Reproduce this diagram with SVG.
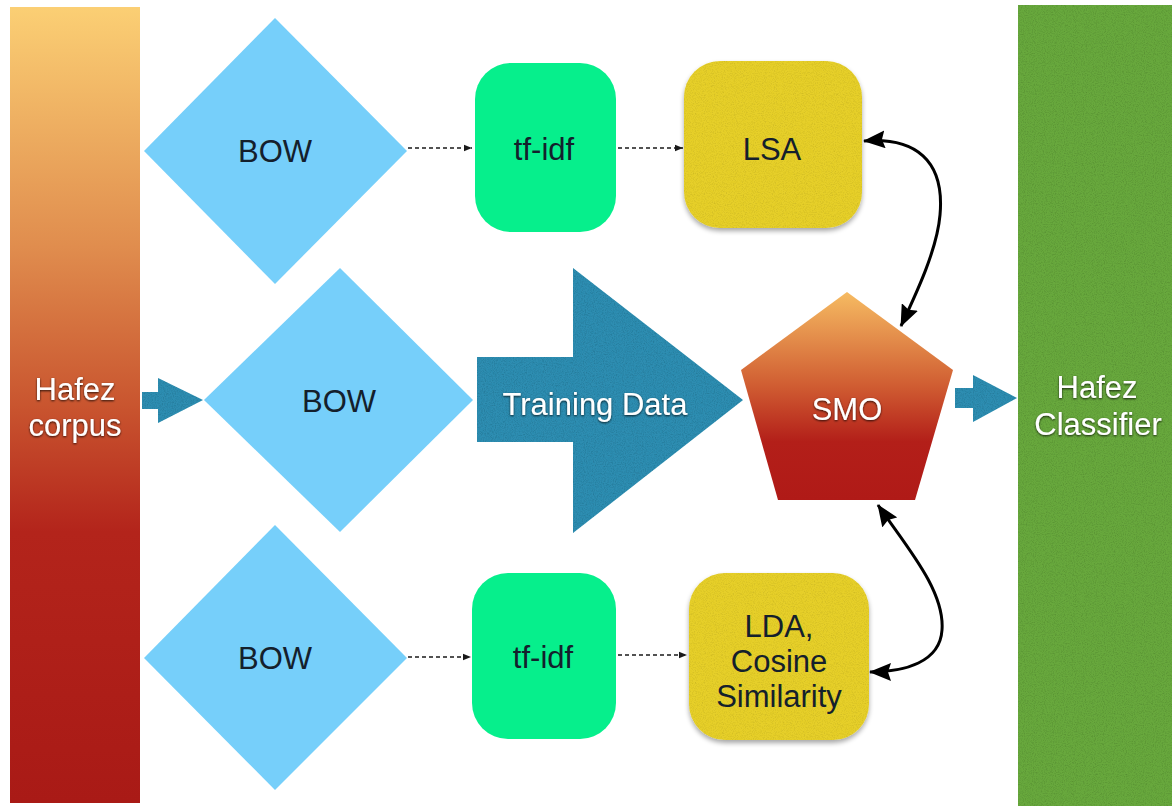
<svg xmlns="http://www.w3.org/2000/svg" width="1172" height="806" viewBox="0 0 1172 806">
  <style>
    .lbl { font-family: "Liberation Sans", Arial, Helvetica, sans-serif; font-size: 31px; text-anchor: middle; }
    .dark { fill: #14202c; }
    .white { fill: #ffffff; filter: url(#textShadow); }
    .diamond { fill: #76cffa; }
    .tfidf { fill: #06ef8c; }
    .topic { fill: #e6cf2c; filter: url(#grainShadow); }
    .block { fill: #2d8db1; filter: url(#grain); }
    .dotted { fill: none; stroke: #1a1a1a; stroke-width: 1.7; stroke-dasharray: 4 3; marker-end: url(#smallHead); }
    .curve { fill: none; stroke: #000; stroke-width: 3; marker-start: url(#bigHead); marker-end: url(#bigHead); }
  </style>
  <defs>
    <linearGradient id="corpusFill" x1="0" y1="0" x2="0" y2="1">
      <stop offset="0" stop-color="#fbcf74"/>
      <stop offset="0.3" stop-color="#e08d4e"/>
      <stop offset="0.5" stop-color="#c9552f"/>
      <stop offset="0.66" stop-color="#b3241b"/>
      <stop offset="1" stop-color="#a91a16"/>
    </linearGradient>
    <linearGradient id="smoFill" x1="0" y1="0" x2="0" y2="1">
      <stop offset="0" stop-color="#f6bb62"/>
      <stop offset="0.45" stop-color="#d05d32"/>
      <stop offset="0.72" stop-color="#b31f19"/>
      <stop offset="1" stop-color="#b01a17"/>
    </linearGradient>
    <filter id="grain" x="-5%" y="-5%" width="110%" height="110%">
      <feTurbulence type="fractalNoise" baseFrequency="0.9" numOctaves="2" seed="4" result="noise"/>
      <feColorMatrix in="noise" type="matrix" values="0 0 0 0 0  0 0 0 0 0  0 0 0 0 0  0.6 0 0 0 -0.26" result="speck"/>
      <feComposite in="speck" in2="SourceAlpha" operator="in" result="speckIn"/>
      <feMerge><feMergeNode in="SourceGraphic"/><feMergeNode in="speckIn"/></feMerge>
    </filter>
    <filter id="grainShadow" x="-10%" y="-10%" width="120%" height="130%">
      <feTurbulence type="fractalNoise" baseFrequency="0.9" numOctaves="2" seed="7" result="noise"/>
      <feColorMatrix in="noise" type="matrix" values="0 0 0 0 0  0 0 0 0 0  0 0 0 0 0  0.45 0 0 0 -0.2" result="speck"/>
      <feComposite in="speck" in2="SourceAlpha" operator="in" result="speckIn"/>
      <feGaussianBlur in="SourceAlpha" stdDeviation="2.5"/>
      <feOffset dy="3" result="blurred"/>
      <feComponentTransfer in="blurred" result="shadow"><feFuncA type="linear" slope="0.35"/></feComponentTransfer>
      <feMerge><feMergeNode in="shadow"/><feMergeNode in="SourceGraphic"/><feMergeNode in="speckIn"/></feMerge>
    </filter>
    <filter id="textShadow" x="-10%" y="-20%" width="120%" height="150%">
      <feDropShadow dx="0" dy="1" stdDeviation="1.2" flood-color="#000" flood-opacity="0.8"/>
    </filter>
    <marker id="smallHead" viewBox="0 0 10 10" refX="10" refY="5" markerWidth="9" markerHeight="8" markerUnits="userSpaceOnUse" orient="auto">
      <path d="M0,1 L10,5 L0,9 Z" fill="#1a1a1a"/>
    </marker>
    <marker id="bigHead" viewBox="0 0 22 18" refX="21" refY="9" markerWidth="22" markerHeight="18" markerUnits="userSpaceOnUse" orient="auto-start-reverse">
      <path d="M0,0 L22,9 L0,18 L3,9 Z" fill="#000"/>
    </marker>
  </defs>

  <rect width="1172" height="806" fill="#ffffff"/>

  <!-- source corpus -->
  <g id="hafez-corpus">
    <rect x="10" y="7" width="130" height="796" fill="url(#corpusFill)"/>
    <text class="lbl white" x="75" y="400">Hafez</text>
    <text class="lbl white" x="75" y="436">corpus</text>
  </g>

  <!-- output classifier -->
  <g id="hafez-classifier">
    <rect x="1018" y="5" width="154" height="801" fill="#67a83c" filter="url(#grain)"/>
    <text class="lbl white" x="1097" y="398">Hafez</text>
    <text class="lbl white" x="1098" y="435">Classifier</text>
  </g>

  <!-- bag-of-words branches -->
  <g id="bow-top">
    <polygon class="diamond" points="275,18 407,151 275,284 144,151"/>
    <text class="lbl dark" x="275" y="162">BOW</text>
  </g>
  <g id="bow-middle">
    <polygon class="diamond" points="340,268 473,400 340,532 204,400"/>
    <text class="lbl dark" x="339" y="412">BOW</text>
  </g>
  <g id="bow-bottom">
    <polygon class="diamond" points="275,525 407,658 275,790 144,658"/>
    <text class="lbl dark" x="275" y="669">BOW</text>
  </g>

  <!-- tf-idf weighting -->
  <g id="tfidf-top">
    <rect class="tfidf" x="475" y="63" width="141" height="169" rx="36"/>
    <text class="lbl dark" x="544" y="160">tf-idf</text>
  </g>
  <g id="tfidf-bottom">
    <rect class="tfidf" x="472" y="573" width="144" height="166" rx="36"/>
    <text class="lbl dark" x="543" y="668">tf-idf</text>
  </g>

  <!-- topic models -->
  <g id="lsa">
    <rect class="topic" x="684" y="61" width="178" height="167" rx="36"/>
    <text class="lbl dark" x="772" y="160">LSA</text>
  </g>
  <g id="lda-cosine">
    <rect class="topic" x="689" y="573" width="180" height="167" rx="36"/>
    <text class="lbl dark" x="779" y="637">LDA,</text>
    <text class="lbl dark" x="779" y="672">Cosine</text>
    <text class="lbl dark" x="779" y="707">Similarity</text>
  </g>

  <!-- training data block arrow -->
  <g id="training-data">
    <path class="block" d="M477,357 H573 V268 L743,400 L573,533 V442 H477 Z"/>
    <text class="lbl white" x="595" y="415">Training Data</text>
  </g>

  <!-- SMO learner -->
  <g id="smo">
    <polygon points="847,292 953,370 915,500 778,500 741,370" fill="url(#smoFill)"/>
    <text class="lbl white" x="847" y="420">SMO</text>
  </g>

  <!-- connectors -->
  <g id="connectors">
    <path class="block" d="M142,392 H158 V378 L203,400 L158,423 V409 H142 Z"/>
    <path class="block" d="M955,388 H973 V375 L1017,398 L973,422 V408 H955 Z"/>
    <path class="dotted" d="M408,148 H472"/>
    <path class="dotted" d="M618,148 H683"/>
    <path class="dotted" d="M408,657 H471"/>
    <path class="dotted" d="M618,655 H687"/>
    <path class="curve" d="M864,141 C915,137 945,160 940,215 C937,250 916,294 901,326"/>
    <path class="curve" d="M878,505 C905,545 945,590 942,630 C940,662 905,672 870,672"/>
  </g>
</svg>
